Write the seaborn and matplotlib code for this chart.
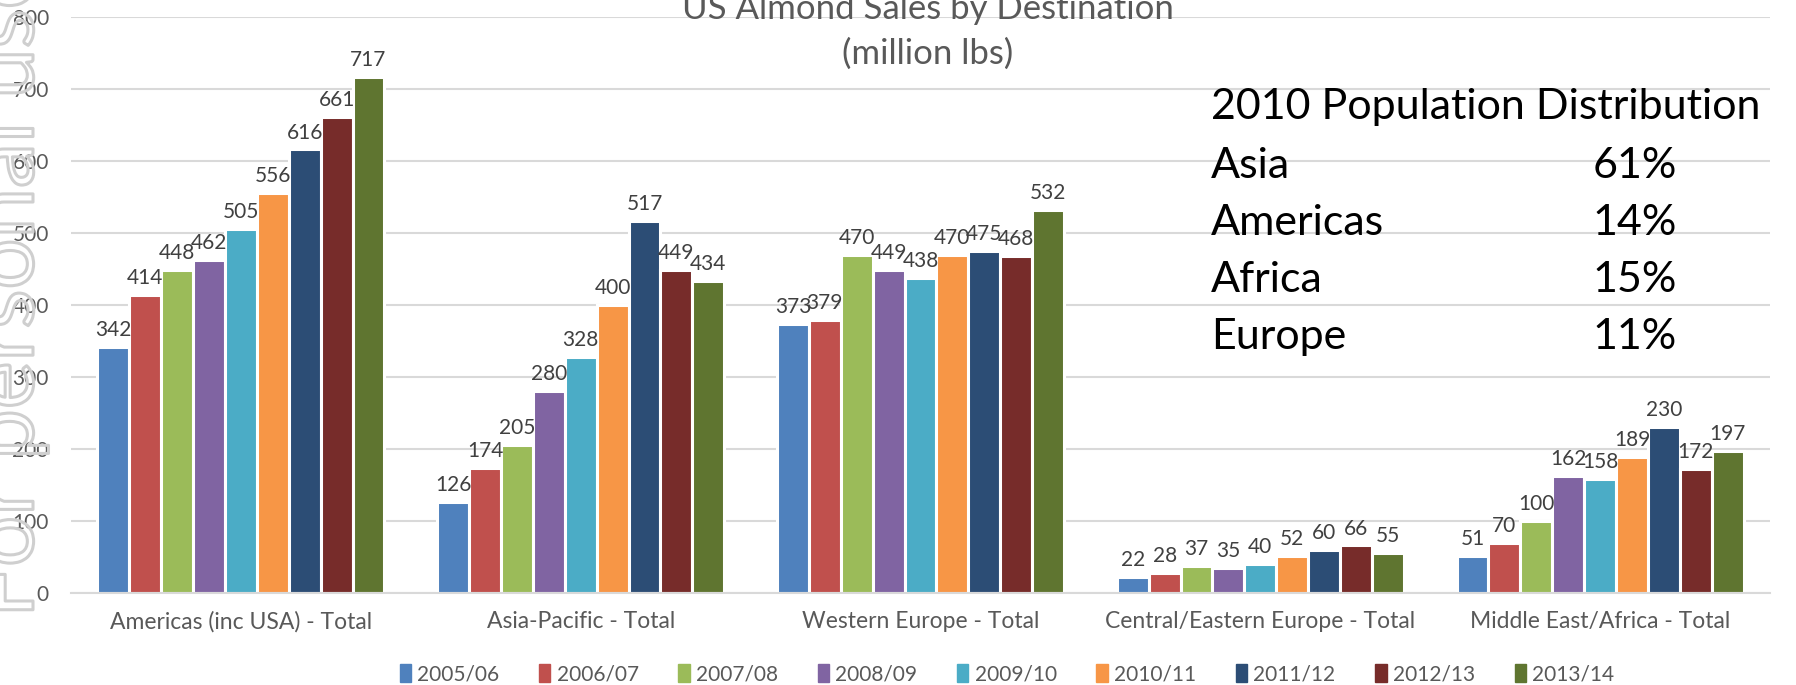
import matplotlib
matplotlib.use("Agg")
import matplotlib.pyplot as plt
import matplotlib.patheffects as pe
import seaborn as sns
import pandas as pd

categories = ["Americas (inc USA) - Total", "Asia-Pacific - Total", "Western Europe - Total",
              "Central/Eastern Europe - Total", "Middle East/Africa - Total"]
years = ["2005/06", "2006/07", "2007/08", "2008/09", "2009/10", "2010/11", "2011/12", "2012/13", "2013/14"]
americas = [342, 414, 448, 462, 505, 556, 616, 661, 717]
asia_pacific = [126, 174, 205, 280, 328, 400, 517, 449, 434]
western_europe = [373, 379, 470, 449, 438, 470, 475, 468, 532]
central_eastern = [22, 28, 37, 35, 40, 52, 60, 66, 55]
middle_east_africa = [51, 70, 100, 162, 158, 189, 230, 172, 197]
colors = ["#4F81BD", "#C0504D", "#9BBB59", "#8064A2", "#4BACC6", "#F79646", "#2C4D75", "#772C2A", "#5F7530"]

pop_regions = ["Asia", "Americas", "Africa", "Europe"]
pop_share = ["61%", "14%", "15%", "11%"]

series = [americas, asia_pacific, western_europe, central_eastern, middle_east_africa]
rows = []
for cat, vals in zip(categories, series):
    for yr, v in zip(years, vals):
        rows.append({"Region": cat, "Year": yr, "Sales": v})
df = pd.DataFrame(rows)

sns.set_theme(style="white")
plt.rcParams['font.family'] = ['Lato', 'DejaVu Sans']

W, H = 1796, 685
fig = plt.figure(figsize=(W / 100, H / 100), dpi=100)
ax = fig.add_axes([71 / W, 1 - 593 / H, (1770 - 71) / W, (593 - 17) / H])

sns.barplot(data=df, x="Region", y="Sales", hue="Year", order=categories, hue_order=years,
            palette=colors, width=0.845, edgecolor="white", linewidth=2.2, saturation=1,
            ax=ax, legend=False)

for cont in ax.containers:
    ax.bar_label(cont, padding=5, fontsize=15, color="#404040")

ax.set_ylim(0, 800)
ax.set_yticks(range(0, 801, 100))
ax.set_xlim(-0.5, 4.5)
ax.yaxis.grid(True, color="#d9d9d9", linewidth=1.5)
ax.set_axisbelow(True)
for s in ["top", "right", "left"]:
    ax.spines[s].set_visible(False)
ax.spines["bottom"].set_color("#d9d9d9")
ax.spines["bottom"].set_linewidth(1.5)
ax.tick_params(axis="y", length=0, pad=16, labelsize=15, labelcolor="#595959")
ax.tick_params(axis="x", length=0, pad=13, labelsize=16.5, labelcolor="#595959")
ax.set_xlabel("")
ax.set_ylabel("")

# Title
fig.text(928 / W, 1 - 9 / H, "US Almond Sales by Destination", ha="center", va="center",
         fontsize=25, color="#595959")
fig.text(928 / W, 1 - 54 / H, "(million lbs)", ha="center", va="center",
         fontsize=25, color="#595959")

# Population box
fig.text(1211 / W, 1 - 107 / H, "2010 Population Distribution", ha="left", va="center",
         fontsize=31, color="black")
for i, (r, p) in enumerate(zip(pop_regions, pop_share)):
    y = 1 - (166 + i * 57) / H
    fig.text(1211 / W, y, r, ha="left", va="center", fontsize=31, color="black")
    fig.text(1677 / W, y, p, ha="right", va="center", fontsize=31, color="black")

# Legend
handles = [plt.Rectangle((0, 0), 1, 1, color=c) for c in colors]
fig.legend(handles, years, loc="center", bbox_to_anchor=(1007 / W, 1 - 674 / H), ncol=9,
           frameon=False, fontsize=15, labelcolor="#595959", handlelength=0.55, handleheight=1.0,
           handletextpad=0.3, columnspacing=1.9)

# Watermark
fig.text(33 / W, 1 - 618 / H, "For personal use", rotation=90, rotation_mode="anchor",
         ha="left", va="baseline", fontsize=65, color="none",
         path_effects=[pe.Stroke(linewidth=2.2, foreground="#cfcfcf")], zorder=10)

fig.savefig("out.png", dpi=100)
